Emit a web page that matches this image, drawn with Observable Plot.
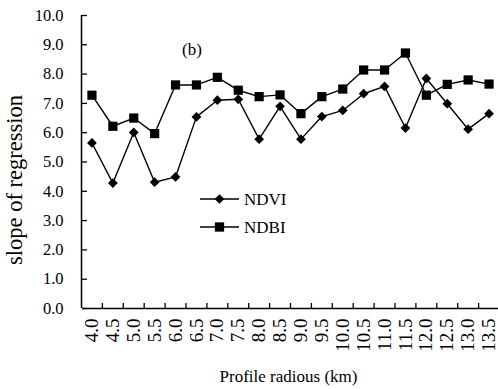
<!DOCTYPE html>
<html>
<head>
<meta charset="utf-8">
<script src="https://cdn.jsdelivr.net/npm/d3@7"></script>
<script src="https://cdn.jsdelivr.net/npm/@observablehq/plot@0.6"></script>
<style>
  html, body { margin: 0; padding: 0; background: #fff; }
  #chart svg, #chart svg text { font-family: "Liberation Serif", "Times New Roman", Times, "DejaVu Serif", serif !important; }
</style>
</head>
<body>
<div id="chart"></div>
<script>
// Profile radius (km) for each sample ring
const radius = [4.0, 4.5, 5.0, 5.5, 6.0, 6.5, 7.0, 7.5, 8.0, 8.5, 9.0, 9.5, 10.0, 10.5, 11.0, 11.5, 12.0, 12.5, 13.0, 13.5];

// Slope of regression for each index
const ndvi = [5.65, 4.28, 6.01, 4.31, 4.49, 6.54, 7.11, 7.14, 5.78, 6.90, 5.78, 6.55, 6.76, 7.33, 7.58, 6.16, 7.85, 6.99, 6.12, 6.65];
const ndbi = [7.28, 6.22, 6.50, 5.97, 7.63, 7.63, 7.89, 7.45, 7.23, 7.29, 6.65, 7.23, 7.49, 8.14, 8.14, 8.72, 7.28, 7.65, 7.80, 7.66];

const seriesNames = ["NDVI", "NDBI"];
const yTicks = [0, 1, 2, 3, 4, 5, 6, 7, 8, 9, 10];
const xLabel = "Profile radious (km)";
const yLabel = "slope of regression";
const panelTag = "(b)";

// each radius sits in the middle of a 0.5 km slot; ticks mark slot edges
const xDomain = [radius[0] - 0.25, radius[radius.length - 1] + 0.25];
const xEdges = radius.slice(1).map(r => r - 0.25).concat([xDomain[1]]);

const rows = seriesNames.flatMap(name =>
  radius.map((r, i) => ({series: name, radius: r, slope: (name === "NDVI" ? ndvi : ndbi)[i]}))
);
const ndviRows = rows.filter(d => d.series === "NDVI");
const ndbiRows = rows.filter(d => d.series === "NDBI");

const serif = '"Liberation Serif", "Times New Roman", Times, "DejaVu Serif", serif';

const chart = Plot.plot({
  width: 498,
  height: 389,
  marginLeft: 82,
  marginRight: 0,
  marginTop: 15,
  marginBottom: 81,
  style: {fontFamily: serif, fontSize: "16.5px", color: "#000", background: "#fff"},
  x: {domain: xDomain, range: [81, 499]},
  y: {domain: [0, 10], range: [308, 15]},
  marks: [
    // tick stubs pointing into the plot
    Plot.axisY(yTicks, {tickSize: -5, tickFormat: () => "", label: null, strokeWidth: 1.3}),
    Plot.axisX(xEdges, {tickSize: -5, tickFormat: () => "", label: null, strokeWidth: 1.3}),
    // tick labels
    Plot.axisY(yTicks, {tickSize: 0, tickPadding: 19, tickFormat: d3.format(".1f"), label: null, fontSize: 16.5}),
    Plot.axisX(radius, {tickSize: 0, tickPadding: 10, tickRotate: -90, tickFormat: d3.format(".1f"), label: null, fontSize: 19}),
    // axis lines
    Plot.ruleY([0], {stroke: "#000", strokeWidth: 1.5}),
    Plot.ruleX([xDomain[0]], {stroke: "#000", strokeWidth: 1.5}),
    // series
    Plot.line(ndviRows, {x: "radius", y: "slope", stroke: "#000", strokeWidth: 1.4}),
    Plot.line(ndbiRows, {x: "radius", y: "slope", stroke: "#000", strokeWidth: 1.4}),
    Plot.dot(ndviRows, {x: "radius", y: "slope", symbol: "diamond2", r: 4.4, fill: "#000", stroke: "none"}),
    Plot.dot(ndbiRows, {x: "radius", y: "slope", symbol: "square", r: 5.2, fill: "#000", stroke: "none"}),
    // x title
    Plot.text([xLabel], {text: d => d, frameAnchor: "bottom", dx: -2, dy: 68, lineAnchor: "middle", fontSize: 17, fill: "#000"})
  ]
});

const svg = d3.select(chart);

// y title and panel tag
svg.append("text")
  .attr("transform", "translate(15,180) rotate(-90)")
  .attr("text-anchor", "middle").attr("dy", "0.32em")
  .attr("font-size", 22.5).attr("fill", "#000")
  .text(yLabel);
svg.append("text")
  .attr("x", 192).attr("y", 50)
  .attr("text-anchor", "middle").attr("dy", "0.32em")
  .attr("font-size", 17).attr("fill", "#000")
  .text(panelTag);

// legend inside the plot area
const legend = svg.append("g").attr("class", "legend");
const symbolPaths = {
  NDVI: d3.symbol(d3.symbolDiamond2, 60)(),
  NDBI: d3.symbol(d3.symbolSquare, 86)()
};
seriesNames.forEach((name, i) => {
  const g = legend.append("g").attr("transform", `translate(200,${199 + i * 28})`);
  g.append("line").attr("x1", 0).attr("x2", 39).attr("stroke", "#000").attr("stroke-width", 1.4);
  g.append("path").attr("d", symbolPaths[name]).attr("transform", "translate(19.5,0)").attr("fill", "#000");
  g.append("text").attr("x", 44).attr("dy", "0.35em").attr("text-anchor", "start")
    .attr("font-size", 17).attr("fill", "#000").text(name);
});

document.getElementById("chart").appendChild(chart);
</script>
</body>
</html>
